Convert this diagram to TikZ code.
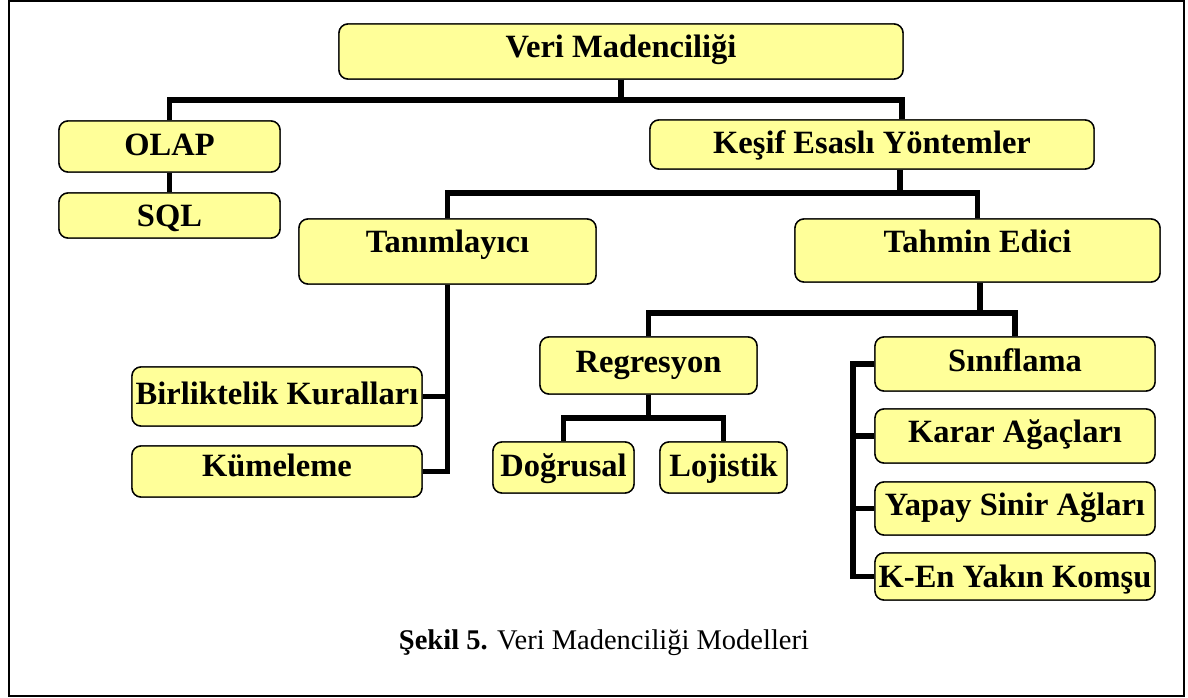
\documentclass[tikz,border=0pt]{standalone}
\usepackage{fontspec}
\setmainfont{Liberation Serif}
\definecolor{boxfill}{HTML}{FFFF99}
\tikzset{
  box/.style={draw=black, fill=boxfill, line width=1.4pt, rounded corners=9pt,
    inner sep=0pt, align=center, text height=21.5pt,
    font=\bfseries\fontsize{32.5}{32.5}\selectfont},
  conn/.style={draw=black, line width=5.5pt, line join=miter, line cap=butt},
}
\begin{document}
\begin{tikzpicture}[x=1pt, y=-1pt]
\useasboundingbox (0,0) rectangle (1188,698);
\fill[white] (0,0) rectangle (1188,698);

% connector junctions
\coordinate (bus1) at (0,100);
\coordinate (kin) at (902,0);
\coordinate (kout) at (900,193);
\coordinate (tout) at (980,313);
\coordinate (rbus) at (0,418);
\coordinate (sb) at (853,0);

% boxes are placed first so the connectors can refer to them
\path
  node[box, minimum width=564, minimum height=55, text depth=9pt] (veri) at (621,51.5) {Veri Madenciliği}
  node[box, minimum width=221, minimum height=51, text depth=4pt] (olap) at (169.5,146.5) {OLAP}
  node[box, minimum width=221, minimum height=45, text depth=0pt] (sql) at (169.5,215.5) {SQL}
  node[box, minimum width=444, minimum height=49, text depth=4pt] (kesif) at (872,144.5) {Keşif Esaslı Yöntemler}
  node[box, minimum width=297, minimum height=65, text depth=19pt] (tanim) at (447.5,251.5) {Tanımlayıcı}
  node[box, minimum width=365, minimum height=63, text depth=18pt] (tahmin) at (977.5,250.5) {Tahmin Edici}
  node[box, minimum width=290, minimum height=59, text depth=5pt] (birl) at (277,396.5) {Birliktelik Kuralları}
  node[box, minimum width=290, minimum height=51, text depth=11pt] (kume) at (277,471.5) {Kümeleme}
  node[box, minimum width=217, minimum height=57, text depth=7pt] (regr) at (648.5,365.5) {Regresyon}
  node[box, minimum width=141, minimum height=51, text depth=4pt] (dogru) at (563.5,467.5) {Doğrusal}
  node[box, minimum width=127, minimum height=51, text depth=4pt] (loji) at (723.5,467.5) {Lojistik}
  node[box, minimum width=280, minimum height=54, text depth=6pt] (sinif) at (1015,364) {Sınıflama}
  node[box, minimum width=280, minimum height=54, text depth=9pt] (karar) at (1015,436) {Karar Ağaçları}
  node[box, minimum width=280, minimum height=53, text depth=7pt] (yapay) at (1015,508.5) {Yapay Sinir Ağları}
  node[box, minimum width=280, minimum height=47, text depth=0pt] (ken) at (1015,576.5) {K-En Yakın Komşu};

% connectors
\draw[conn] (veri.south) -- (veri.south |- bus1);
\draw[conn] (olap.north) |- (kin |- bus1) -- (kin |- kesif.north);
\draw[conn] (olap.south) -- (sql.north);
\draw[conn] (kout |- kesif.south) -- (kout);
\draw[conn] (tanim.north) |- (kout) -| (tahmin.north);
\draw[conn] (tout |- tahmin.south) -- (tout);
\draw[conn] (regr.north) |- (tout) -| (sinif.north);
\draw[conn] (regr.south) -- (regr.south |- rbus);
\draw[conn] (dogru.north) |- (regr.south |- rbus) -| (loji.north);
\draw[conn] (birl.east) -| (tanim.south);
\draw[conn] (tanim.south |- birl.east) |- (kume.east);
\draw[conn] (sinif.west) -- (sinif.west -| sb) -- (ken.west -| sb) -- (ken.west);
\draw[conn] (karar.west -| sb) -- (karar.west);
\draw[conn] (yapay.west -| sb) -- (yapay.west);

% boxes drawn again on top of the connector ends
\path
  node[box, minimum width=564, minimum height=55, text depth=9pt] at (veri) {Veri Madenciliği}
  node[box, minimum width=221, minimum height=51, text depth=4pt] at (olap) {OLAP}
  node[box, minimum width=221, minimum height=45, text depth=0pt] at (sql) {SQL}
  node[box, minimum width=444, minimum height=49, text depth=4pt] at (kesif) {Keşif Esaslı Yöntemler}
  node[box, minimum width=297, minimum height=65, text depth=19pt] at (tanim) {Tanımlayıcı}
  node[box, minimum width=365, minimum height=63, text depth=18pt] at (tahmin) {Tahmin Edici}
  node[box, minimum width=290, minimum height=59, text depth=5pt] at (birl) {Birliktelik Kuralları}
  node[box, minimum width=290, minimum height=51, text depth=11pt] at (kume) {Kümeleme}
  node[box, minimum width=217, minimum height=57, text depth=7pt] at (regr) {Regresyon}
  node[box, minimum width=141, minimum height=51, text depth=4pt] at (dogru) {Doğrusal}
  node[box, minimum width=127, minimum height=51, text depth=4pt] at (loji) {Lojistik}
  node[box, minimum width=280, minimum height=54, text depth=6pt] at (sinif) {Sınıflama}
  node[box, minimum width=280, minimum height=54, text depth=9pt] at (karar) {Karar Ağaçları}
  node[box, minimum width=280, minimum height=53, text depth=7pt] at (yapay) {Yapay Sinir Ağları}
  node[box, minimum width=280, minimum height=47, text depth=0pt] at (ken) {K-En Yakın Komşu};

% caption
\node[anchor=base, inner sep=0pt, font=\fontsize{28.5}{28.5}\selectfont] (cap) at (604,649)
  {\textbf{Şekil 5.} Veri Madenciliği Modelleri};

% outer frame
\draw[line width=2pt] (8.5,1) rectangle (1184,696);
\end{tikzpicture}
\end{document}
